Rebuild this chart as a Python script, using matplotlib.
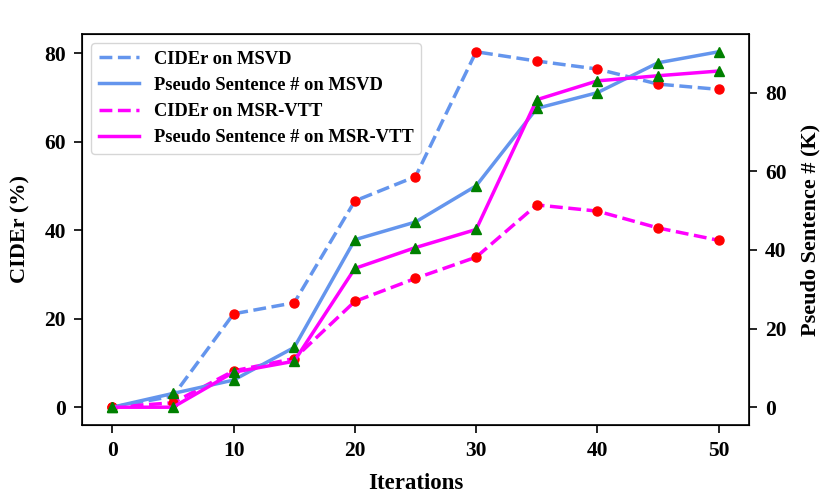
import matplotlib
matplotlib.use("Agg")
import matplotlib.pyplot as plt

iterations = [0, 5, 10, 15, 20, 25, 30, 35, 40, 45, 50]

cider_msvd = [0.0, 2.5, 21.1, 23.6, 46.6, 52.1, 80.3, 78.2, 76.4, 73.0, 71.8]
cider_msrvtt = [0.0, 1.0, 8.2, 11.0, 23.9, 29.1, 33.9, 45.7, 44.3, 40.5, 37.7]
pseudo_msvd = [0.0, 3.5, 6.9, 15.2, 42.6, 47.1, 56.3, 76.0, 80.0, 87.6, 90.4]
pseudo_msrvtt = [0.0, 0.0, 8.9, 11.7, 35.3, 40.6, 45.2, 78.2, 83.0, 84.3, 85.5]

left_ticks = [0, 20, 40, 60, 80]
right_ticks = [0, 20, 40, 60, 80]

plt.rcParams["font.family"] = ["Liberation Serif", "DejaVu Serif"]
plt.rcParams["font.weight"] = "bold"

fig = plt.figure(figsize=(8.3, 4.97), dpi=100)
ax = fig.add_axes([0.0988, 0.1449, 0.8036, 0.7867])
ax2 = ax.twinx()

blue = "#6495ED"
pink = "#FF00FF"

l1, = ax.plot(iterations, cider_msvd, "--", color=blue, lw=2.5, label="CIDEr on MSVD")
ax.plot(iterations, cider_msvd, "o", color="red", ms=6.5)
l3, = ax.plot(iterations, cider_msrvtt, "--", color=pink, lw=2.5, label="CIDEr on MSR-VTT")
ax.plot(iterations, cider_msrvtt, "o", color="red", ms=6.5)

l2, = ax2.plot(iterations, pseudo_msvd, "-", color=blue, lw=2.5, label="Pseudo Sentence # on MSVD")
ax2.plot(iterations, pseudo_msvd, "^", color="green", ms=7)
l4, = ax2.plot(iterations, pseudo_msrvtt, "-", color=pink, lw=2.5, label="Pseudo Sentence # on MSR-VTT")
ax2.plot(iterations, pseudo_msrvtt, "^", color="green", ms=7)

ax.set_yticks(left_ticks)
ax2.set_yticks(right_ticks)

ax.set_xlabel("Iterations", fontsize=16.5, fontweight="bold", labelpad=9)
ax.set_ylabel("CIDEr (%)", fontsize=16, fontweight="bold", labelpad=10)
ax2.set_ylabel("Pseudo Sentence # (K)", fontsize=16, fontweight="bold", labelpad=10)

for a in (ax, ax2):
    a.tick_params(labelsize=15.5, width=1.2, length=5.5, pad=6)
    for lab in a.get_xticklabels() + a.get_yticklabels():
        lab.set_fontweight("bold")
for s in ax.spines.values():
    s.set_linewidth(1.2)

ax.legend(handles=[l1, l2, l3, l4], loc="upper left",
          prop={"size": 13.3, "weight": "bold"}, handlelength=2.2)

fig.savefig("out.png", dpi=100)
